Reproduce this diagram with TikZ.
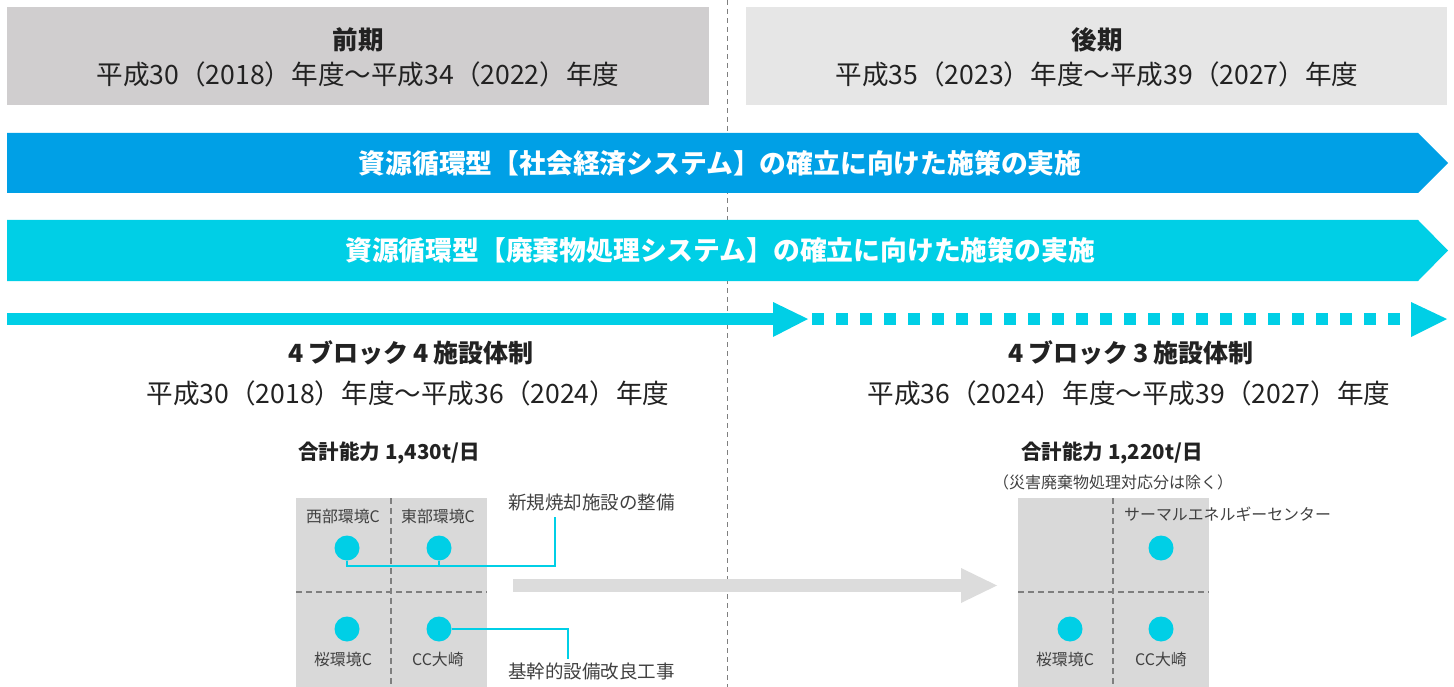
\documentclass[tikz,border=0pt]{standalone}
\usepackage{fontspec}
\setmainfont{Noto Sans CJK JP}
\definecolor{hdrL}{HTML}{D0CECF}
\definecolor{hdrR}{HTML}{E6E6E6}
\definecolor{blueA}{HTML}{00A0E6}
\definecolor{cyanA}{HTML}{00CFE6}
\definecolor{gridbg}{HTML}{D9D9D9}
\definecolor{grayarrow}{HTML}{DCDCDC}
\definecolor{txt}{HTML}{222222}
\definecolor{lbl}{HTML}{404040}
\definecolor{dashc}{HTML}{7F7F7F}
\tikzset{
  hdrtitle/.style={font=\fontsize{25.5}{28}\selectfont\bfseries, text=txt, inner sep=0},
  hdrsub/.style={font=\fontsize{26.6}{30}\selectfont, text=txt, inner sep=0},
  arrowtext/.style={font=\fontsize{26.8}{30}\selectfont\bfseries, text=white, inner sep=0},
  systitle/.style={font=\fontsize{25}{28}\selectfont\bfseries, text=txt, inner sep=0},
  capa/.style={font=\fontsize{20.5}{24}\selectfont\bfseries, text=txt, inner sep=0},
  small/.style={font=\fontsize{16}{18}\selectfont, text=lbl, inner sep=0},
  plant/.style={circle, fill=cyanA, minimum size=25pt, inner sep=0},
  plantlbl/.style={font=\fontsize{15.9}{18}\selectfont, text=lbl, inner sep=0},
  notelbl/.style={font=\fontsize{18.5}{20}\selectfont, text=lbl, inner sep=0, anchor=west},
  griddash/.style={dashc, line width=1.2pt, dash pattern=on 6pt off 4pt},
  leader/.style={cyanA, line width=2.5pt},
}
\newcommand{\gp}{\hspace{5pt}}
\begin{document}
\begin{tikzpicture}[x=1pt,y=-1pt]
\useasboundingbox (0,0) rectangle (1454,687);
% central dashed divider
\draw[dashc, line width=1pt, dash pattern=on 5pt off 4pt] (727,0) -- (727,687);
% headers
\fill[hdrL] (7,7) rectangle (709,105);
\fill[hdrR] (746,7) rectangle (1447,105);
\node[hdrtitle] (t1) at (358,40) {前期};
\node[hdrsub] (s1) at (358,74) {平成30（2018）年度〜平成34（2022）年度};
\node[hdrtitle] (t2) at (1097,40) {後期};
\node[hdrsub] (s2) at (1097,74) {平成35（2023）年度〜平成39（2027）年度};
% big arrows
\fill[blueA] (7,133) -- (1418,133) -- (1448,163) -- (1418,193) -- (7,193) -- cycle;
\node[arrowtext] (a1) at (720,163) {資源循環型【社会経済システム】の確立に向けた施策の実施};
\fill[cyanA] (7,220) -- (1418,220) -- (1448,250.5) -- (1418,281) -- (7,281) -- cycle;
\node[arrowtext] (a2) at (720,250) {資源循環型【廃棄物処理システム】の確立に向けた施策の実施};
% timeline arrow
\fill[cyanA] (7,313) rectangle (775,325);
\fill[cyanA] (773,302) -- (808,319) -- (773,337) -- cycle;
\draw[cyanA, line width=12pt, dash pattern=on 12pt off 12pt] (812,319) -- (1403,319);
\fill[cyanA] (1411,302) -- (1447,319) -- (1411,337) -- cycle;
% system titles
\node[systitle] (sys1) at (411,353) {4\gp ブロック\gp 4\gp 施設体制};
\node[hdrsub] (per1) at (408,393) {平成30（2018）年度〜平成36（2024）年度};
\node[systitle] (sys2) at (1131,353) {4\gp ブロック\gp 3\gp 施設体制};
\node[hdrsub] (per2) at (1129,393) {平成36（2024）年度〜平成39（2027）年度};
% capacities
\node[capa] (c1) at (389,453) {合計能力 1,430t/日};
\node[capa] (c2) at (1112,453) {合計能力 1,220t/日};
\node[small] (c2n) at (1113,482) {（災害廃棄物処理対応分は除く）};
% left grid
\fill[gridbg] (296,498) rectangle (487,687);
\draw[griddash] (391,498) -- (391,687);
\draw[griddash] (296,592) -- (487,592);
\node[plantlbl] (wl) at (343,516) {西部環境C};
\node[plantlbl] (el) at (438,516) {東部環境C};
\node[plantlbl] (sl) at (343,659) {桜環境C};
\node[plantlbl] (ol) at (438,659) {CC大崎};
\node[plant] (w) at (347,548) {};
\node[plant] (e) at (439,548) {};
\node[plant] (s) at (347,629) {};
\node[plant] (o) at (439,629) {};
% leaders
\node[notelbl] (n1) at (508,502) {新規焼却施設の整備};
\node[notelbl] (n2) at (508,671) {基幹的設備改良工事};
\coordinate (j1) at (555,566);
\draw[leader] (w.south) -- (w.south |- j1) -- (j1) -- (555,517);
\draw[leader] (e.south) -- (e.south |- j1);
\draw[leader] (o.east) -- (568,629) -- (568,659);
% gray transition arrow
\fill[grayarrow] (513,579) rectangle (962,592);
\fill[grayarrow] (961,568) -- (997,585.5) -- (961,603) -- cycle;
% right grid
\fill[gridbg] (1018,498) rectangle (1209,687);
\draw[griddash] (1113,498) -- (1113,687);
\draw[griddash] (1018,592) -- (1209,592);
\node[plantlbl, anchor=west] (tl) at (1124,514) {サーマルエネルギーセンター};
\node[plantlbl] (sl2) at (1065,659) {桜環境C};
\node[plantlbl] (ol2) at (1161,659) {CC大崎};
\node[plant] (t) at (1161,548) {};
\node[plant] (s2p) at (1070,629) {};
\node[plant] (o2) at (1161,629) {};
\end{tikzpicture}
\end{document}
